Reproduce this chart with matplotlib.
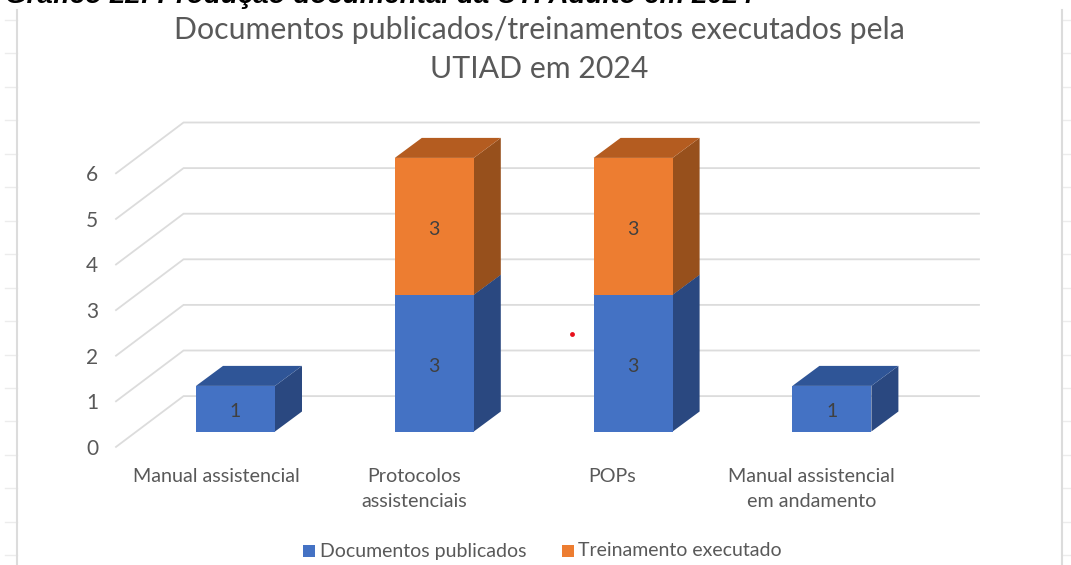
import matplotlib
matplotlib.use("Agg")
import matplotlib.pyplot as plt
from matplotlib.patches import Polygon, Rectangle

categories = ["Manual assistencial", "Protocolos\nassistenciais", "POPs", "Manual assistencial\nem andamento"]
documentos = [1, 3, 3, 1]
treinamento = [0, 3, 3, 0]
y_ticks = [0, 1, 2, 3, 4, 5, 6]
series_names = ["Documentos publicados", "Treinamento executado"]
title_lines = ["Documentos publicados/treinamentos executados pela", "UTIAD em 2024"]
caption = "Gráfico 22: Produção documental da UTI Adulto em 2024"

W, H = 1071, 565
FONT = ["Lato", "DejaVu Sans"]
TXT = "#595959"
GRID = "#dcdcdc"
BLUE = ("#4472c4", "#2f5597", "#2a4880")
ORANGE = ("#ed7d31", "#b45c20", "#97501c")

fig = plt.figure(figsize=(W / 100, H / 100), dpi=100, facecolor="white")
ax = fig.add_axes([0, 0, 1, 1])

# value axis: one unit 45.6 px, zero on bar fronts at 431.5 px; categories 198.8 px apart
UX, UY = 198.8, 45.6
X0, Y0 = 235.5, 431.5
ax.set_xlim(-X0 / UX, (W - X0) / UX)
ax.set_ylim((Y0 - H) / UY, Y0 / UY)
ax.axis("off")

DX, DY = 27 / UX, 20 / UY      # depth offset of one bar depth
BW = 79 / UX
WALL_BACK, WALL_FRONT = 1.77, -0.77


def px(xp, yp):
    """Pixel position in the reference to data coordinates, for page furniture."""
    return (xp - X0) / UX, (Y0 - yp) / UY


def box(x, bottom, height, cols, z):
    l, r = x - BW / 2, x + BW / 2
    t = bottom + height
    ax.add_patch(Polygon([(l, bottom), (r, bottom), (r, t), (l, t)], fc=cols[0], ec="none", zorder=z + 0.2))
    ax.add_patch(Polygon([(l, t), (r, t), (r + DX, t + DY), (l + DX, t + DY)], fc=cols[1], ec="none", zorder=z + 0.1))
    ax.add_patch(Polygon([(r, bottom), (r + DX, bottom + DY), (r + DX, t + DY), (r, t)], fc=cols[2], ec="none", zorder=z))


# page furniture behind the chart (spreadsheet grid of the screenshot)
for xp0, xp1 in [(5, 17), (1062, 1071)]:
    for k in range(17):
        yp = 20 + 33.45 * k
        a, b = px(xp0, yp), px(xp1, yp)
        ax.plot([a[0], b[0]], [a[1], b[1]], color="#ececec", lw=1, zorder=0)
for xp, yp0 in [(17, 10), (1062, 10)]:
    a, b = px(xp, yp0), px(xp, 565)
    ax.plot([a[0], b[0]], [a[1], b[1]], color="#dcdcdc", lw=1.5, zorder=0)

# gridlines: back wall and left side wall
TICK_SHIFT = -2 / UY
for v in y_ticks:
    front_x = px(116, 0)[0]
    back_x = px(979, 0)[0]
    ya = v + WALL_FRONT * DY
    xb = front_x + (WALL_BACK - WALL_FRONT) * DX * 0.985
    yb = v + WALL_BACK * DY
    ax.plot([front_x, xb, back_x], [ya, yb, yb], color=GRID, lw=1.3, zorder=1, solid_joinstyle="miter")
    ax.text(px(92, 0)[0], ya + TICK_SHIFT, str(v), ha="center", va="center", fontsize=15, color=TXT, family=FONT, zorder=5)

# stacked 3D bars
LAB = -3 / UY
for i, (d, t) in enumerate(zip(documentos, treinamento)):
    box(i, 0, d, BLUE, 2)
    ax.text(i, d / 2 + LAB, str(d), ha="center", va="center", fontsize=14, color="#404040", family=FONT, zorder=5)
    if t:
        box(i, d, t, ORANGE, 3)
        ax.text(i, d + t / 2 + LAB, str(t), ha="center", va="center", fontsize=14, color="#404040", family=FONT, zorder=5)

# category labels
for i, c in enumerate(categories):
    xoff = [-19.5, -20.5, -21, -20.5][i] / UX
    for j, line in enumerate(c.split("\n")):
        ax.text(i + xoff, px(0, 476.5 + 25 * j)[1], line, ha="center", va="center", fontsize=14.2, color=TXT,
                family=FONT, zorder=5)

# title and clipped caption
for line, yp in zip(title_lines, [30, 69]):
    ax.text(px(539, 0)[0], px(0, yp)[1], line, ha="center", va="center", fontsize=21.8, color=TXT, family=FONT, zorder=5)
cx, cy = px(5, 3)
ax.text(cx, cy, caption, ha="left", va="baseline", fontsize=20, fontweight="bold", fontstyle="italic",
        color="black", family=["Liberation Sans", "DejaVu Sans"], zorder=6)

# legend
for name, col, xs, xt in zip(series_names, [BLUE[0], ORANGE[0]], [303, 562], [320, 578]):
    a = px(xs, 557)
    ax.add_patch(Rectangle(a, 12 / UX, 12 / UY, fc=col, ec="none", zorder=5))
    ax.text(px(xt, 0)[0], px(0, 551)[1], name, ha="left", va="center", fontsize=14, color=TXT, family=FONT, zorder=5)

# stray red dot in the screenshot
ax.plot(*px(571.5, 334), "o", color="#e8101c", ms=3.5, mew=0, zorder=6)

fig.savefig("out.png", dpi=100)
